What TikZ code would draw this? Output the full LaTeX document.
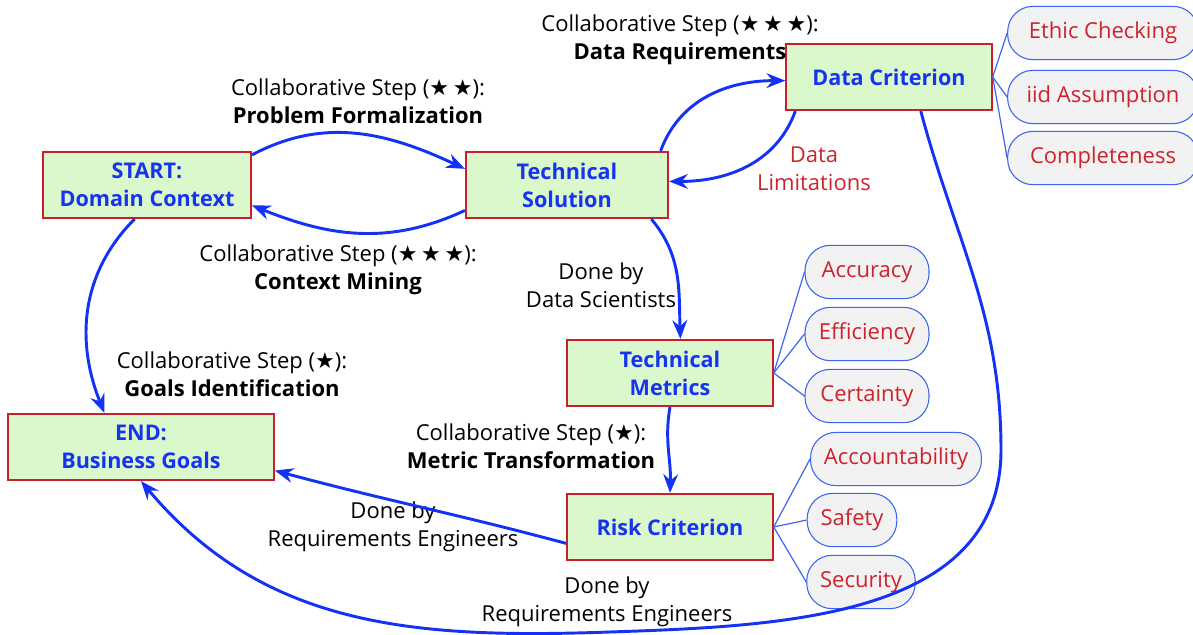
\documentclass[tikz,border=0pt]{standalone}
\usepackage{fontspec}
\setmainfont{Open Sans}
\newfontfamily\starfont{DejaVu Sans}
\newcommand{\sk}{{\starfont ★}}
\usetikzlibrary{arrows.meta,shapes}

\definecolor{boxgreen}{RGB}{218,248,204}
\definecolor{boxred}{RGB}{200,32,42}
\definecolor{txtblue}{RGB}{22,52,240}
\definecolor{flowblue}{RGB}{20,50,245}
\definecolor{pillgray}{RGB}{242,242,242}
\definecolor{pillblue}{RGB}{60,100,240}
\definecolor{txtred}{RGB}{205,35,45}

\begin{document}
\begin{tikzpicture}[x=0.75pt,y=-0.75pt,>={Stealth[length=14pt,width=11pt]},semithick,
  font=\fontsize{16.5}{21}\selectfont,
  box/.style={draw=boxred,fill=boxgreen,line width=1.6pt,align=center,text=txtblue,
              font=\fontsize{16.2}{21}\selectfont\bfseries,minimum height=49.5pt,inner sep=0pt},
  pill/.style={draw=pillblue,fill=pillgray,rounded corners=19pt,minimum height=40pt,
               text=txtred,inner xsep=10pt,line width=0.8pt},
  flow/.style={->,draw=flowblue,line width=2.2pt},
  leaf/.style={draw=pillblue,line width=0.9pt},
  lbl/.style={align=center}]
\useasboundingbox (0,0) rectangle (1193,635);

% main boxes
\node[box,minimum width=156pt] (start) at (147,185) {START:\\Domain Context};
\node[box,minimum width=151.5pt] (ts) at (567,185) {Technical\\Solution};
\node[box,minimum width=154pt] (dc) at (889,77) {Data Criterion};
\node[box,minimum width=154pt] (tm) at (670,373) {Technical\\Metrics};
\node[box,minimum width=199pt] (end) at (141,447) {END:\\Business Goals};
\node[box,minimum width=154pt] (rc) at (670,527) {Risk Criterion};

% criteria
\node[pill,minimum width=143pt] (ethic) at (1103,33) {Ethic Checking};
\node[pill,minimum width=143pt] (iid) at (1103,97) {iid Assumption};
\node[pill,minimum width=143pt] (compl) at (1103,158) {Completeness};
\node[pill,minimum width=93pt] (acc) at (867,272) {Accuracy};
\node[pill,minimum width=93pt] (eff) at (867,334) {Efficiency};
\node[pill,minimum width=93pt] (cert) at (867,396) {Certainty};
\node[pill] (acct) at (896,459) {Accountability};
\node[pill] (safe) at (852,520) {Safety};
\node[pill] (secu) at (861,582) {Security};

\foreach \c in {ethic,iid,compl} \draw[leaf] (dc.east) -- (\c.west);
\foreach \c in {acc,eff,cert} \draw[leaf] (tm.east) -- (\c.west);
\foreach \c in {acct,safe,secu} \draw[leaf] (rc.east) -- (\c.west);

% labels
\node[lbl] (l1) at (358,101) {Collaborative Step (\sk\,\sk):\\\textbf{Problem Formalization}};
\node[lbl] (l2) at (338,270) {Collaborative Step (\sk\,\sk\,\sk):\\\textbf{Context Mining}};
\node[lbl] (l3) at (680,40) {Collaborative Step (\sk\,\sk\,\sk):\\\textbf{Data Requirements}};
\node[lbl,text=txtred] (l4) at (814,169) {Data\\Limitations};
\node[lbl] (l5) at (601,285) {Done by\\Data Scientists};
\node[lbl] (l6) at (232,374) {Collaborative Step (\sk):\\\textbf{Goals Identification}};
\node[lbl] (l7) at (531,446) {Collaborative Step (\sk):\\\textbf{Metric Transformation}};
\node[lbl] (l8) at (393,527) {Done by\\Requirements Engineers};
\node[lbl] (l9) at (607,602) {Done by\\Requirements Engineers};

% flows
\draw[flow] (start.16) to[out=28,in=155] (ts.171);
\draw[flow] (ts.194) to[out=205,in=-22] (start.-11);
\draw[flow] (start.250) to[out=225,in=112] (end.137);
\draw[flow] (ts.20) to[out=70,in=180] (dc.182);
\draw[flow] (dc.200) to[out=250,in=0] (ts.2);
\draw[flow] (ts.-22) to[out=-50,in=92] (tm.73);
\draw[flow] (tm.south) to[out=-100,in=88] (rc.north);
\draw[flow] (rc.189) to[out=165,in=-15] (end.-10);
\draw[flow] (dc.-47) to[out=-75,in=90] (1001,450)
                     to[out=-90,in=2] (610,632)
                     to[out=182,in=-50] (end.south);
\end{tikzpicture}
\end{document}
